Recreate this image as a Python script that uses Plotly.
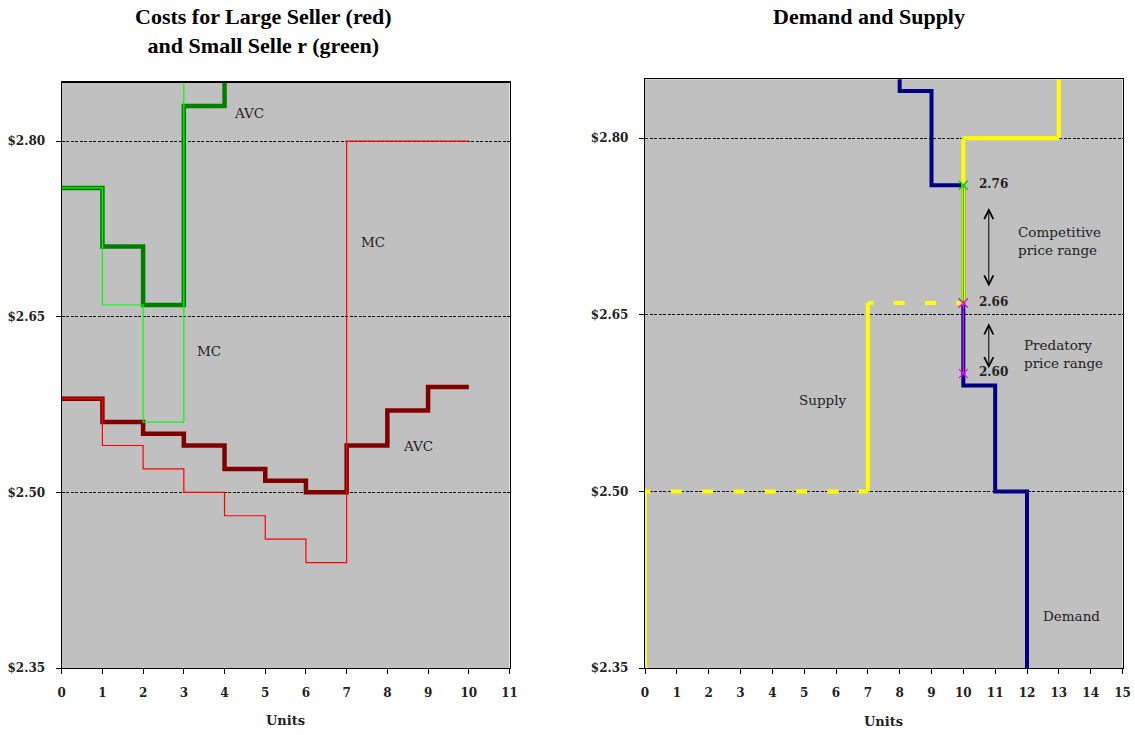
import plotly.graph_objects as go

# ---------------- data ----------------
# Left chart: costs per unit (step functions over units 0..n)
large_mc = [2.58, 2.54, 2.52, 2.50, 2.48, 2.46, 2.44, 2.80, 2.80, 2.80]
large_avc = [2.58, 2.56, 2.55, 2.54, 2.52, 2.51, 2.50, 2.54, 2.57, 2.59]
small_mc = [2.76, 2.66, 2.56, 3.34]
small_avc = [2.76, 2.71, 2.66, 2.83, 2.95]

# Right chart: demand step (boundaries and prices)
demand_q = [7, 8, 9, 10, 11, 12]
demand_p = [2.95, 2.84, 2.76, 2.59, 2.50, 2.30]

# Supply step: quantity boundaries, prices (below first step, each step, above last)
supply_q = [0, 7, 10, 13]
supply_p = [2.30, 2.50, 2.66, 2.80, 2.95]
supply_dashed = [True, True, False]

comp_q = [10, 10]
comp_p = [2.76, 2.66]
pred_q = [10, 10]
pred_p = [2.66, 2.60]

y_ticks = [2.35, 2.50, 2.65, 2.80]
y_tick_text = ["$2.35", "$2.50", "$2.65", "$2.80"]
left_x_ticks = list(range(0, 12))
right_x_ticks = list(range(0, 16))

# ---------------- layout helpers ----------------
W, H, OFF = 1135, 735, 0   # body margin removed via post_script


def px(x):
    return (x - OFF) / W


def py(y):
    return 1 - (y - OFF) / H


# ---------------- styles ----------------
SERIF = "DejaVu Serif"
TITLE_FONT = dict(family="Liberation Serif", size=22, color="black", weight=700)
TICK_FONT = dict(family=SERIF, size=12, color="#222", weight=700)
LABEL_FONT = dict(family=SERIF, size=13.5, color="#222")
NUM_FONT = dict(family=SERIF, size=12, color="#222", weight=700)


def step_xy(values):
    xs = list(range(len(values) + 1))
    ys = list(values) + [values[-1]]
    return xs, ys


fig = go.Figure()

# ---- left chart ----
for vals, color, width in [
    (large_avc, "#800000", 4.5),
    (large_mc, "#FF0000", 1.2),
    (small_avc, "#008000", 4.5),
    (small_mc, "#00FF00", 1.2),
]:
    xs, ys = step_xy(vals)
    fig.add_trace(go.Scatter(x=xs, y=ys, mode="lines", line=dict(color=color, width=width, shape="hv"),
                             xaxis="x", yaxis="y", showlegend=False, hoverinfo="skip"))

# ---- right chart ----
fig.add_trace(go.Scatter(x=demand_q, y=demand_p, mode="lines",
                         line=dict(color="#000080", width=4, shape="hv"),
                         xaxis="x2", yaxis="y2", showlegend=False, hoverinfo="skip"))

# supply: vertical parts + solid horizontals
sx, sy = [], []
dx, dy = [], []
for i, q in enumerate(supply_q):
    sx += [q, q, None]
    sy += [supply_p[i], supply_p[i + 1], None]
    if i < len(supply_q) - 1:
        if supply_dashed[i]:
            dx += [q, supply_q[i + 1], None]
            dy += [supply_p[i + 1], supply_p[i + 1], None]
        else:
            sx += [q, supply_q[i + 1], None]
            sy += [supply_p[i + 1], supply_p[i + 1], None]

fig.add_trace(go.Scatter(x=sx, y=sy, mode="lines", line=dict(color="#FFFF00", width=4),
                         xaxis="x2", yaxis="y2", showlegend=False, hoverinfo="skip"))
fig.add_trace(go.Scatter(x=dx, y=dy, mode="lines",
                         line=dict(color="#FFFF00", width=4, dash="5.5px,20.3px,5.5px,0px"),
                         xaxis="x2", yaxis="y2", showlegend=False, hoverinfo="skip"))

fig.add_trace(go.Scatter(x=comp_q, y=comp_p, mode="lines+markers",
                         line=dict(color="#00CC00", width=1.2),
                         marker=dict(symbol="x-thin-open", size=9, line=dict(color="#00FF00", width=1.2)),
                         xaxis="x2", yaxis="y2", showlegend=False, hoverinfo="skip"))
fig.add_trace(go.Scatter(x=pred_q, y=pred_p, mode="lines+markers",
                         line=dict(color="#FF00FF", width=1.2),
                         marker=dict(symbol="x-thin-open", size=9, line=dict(color="#FF00FF", width=1.2)),
                         xaxis="x2", yaxis="y2", showlegend=False, hoverinfo="skip"))

axis_common = dict(showline=True, mirror=True, linecolor="black", linewidth=1.2,
                   ticks="outside", ticklen=5, tickcolor="black", tickwidth=1,
                   zeroline=False, tickfont=TICK_FONT, automargin=False)
yaxis_common = dict(axis_common, range=[2.35, 2.85], tickvals=y_ticks, ticktext=y_tick_text,
                    showgrid=True, gridcolor="#111", gridwidth=1,
                    griddash="3px,1.5px", ticklabelstandoff=8)
xaxis_common = dict(axis_common, showgrid=False, ticklabelstandoff=8)

fig.update_layout(
    width=W, height=H,
    margin=dict(l=0, r=0, t=0, b=0, autoexpand=False),
    paper_bgcolor="white",
    plot_bgcolor="#C0C0C0",
    showlegend=False,
    hovermode=False,
    xaxis=dict(xaxis_common, domain=[px(61.7), px(509.5)], range=[0, 11], tickvals=left_x_ticks, anchor="y"),
    yaxis=dict(yaxis_common, domain=[py(668), py(82.5)], anchor="x"),
    xaxis2=dict(xaxis_common, domain=[px(645), px(1122.5)], range=[0, 15], tickvals=right_x_ticks, anchor="y2"),
    yaxis2=dict(yaxis_common, domain=[py(668), py(79.3)], anchor="x2"),
)

ann = []
# titles and axis titles
ann.append(dict(text="Costs for Large Seller (red)<br>and Small Selle r (green)", x=px(263.5), y=py(31),
                xref="paper", yref="paper", showarrow=False, font=TITLE_FONT, xanchor="center", yanchor="middle"))
ann.append(dict(text="Demand and Supply", x=px(868.5), y=py(17), xref="paper", yref="paper",
                showarrow=False, font=TITLE_FONT, xanchor="center", yanchor="middle"))
for xc, yc in ((285, 720), (883, 721)):
    ann.append(dict(text="Units", x=px(xc), y=py(yc), xref="paper", yref="paper", showarrow=False,
                    font=dict(family=SERIF, size=13, color="#222", weight=700), xanchor="center", yanchor="middle"))

# left chart labels
for txt, x, y in [("AVC", 4.59, 2.8236), ("MC", 3.63, 2.621), ("MC", 7.64, 2.7135), ("AVC", 8.74, 2.5397)]:
    ann.append(dict(text=txt, x=x, y=y, xref="x", yref="y", showarrow=False, font=LABEL_FONT,
                    xanchor="center", yanchor="middle"))

# right chart labels
for txt, y in [("2.76", 2.761), ("2.66", 2.661), ("2.60", 2.601)]:
    ann.append(dict(text=txt, x=10.44, y=y, xref="x2", yref="y2", showarrow=False, font=NUM_FONT,
                    xanchor="left", yanchor="middle"))
ann.append(dict(text="Competitive<br>price range", x=11.66, y=2.7125, xref="x2", yref="y2", showarrow=False,
                font=LABEL_FONT, xanchor="left", yanchor="middle", align="left"))
ann.append(dict(text="Predatory<br>price range", x=11.84, y=2.6168, xref="x2", yref="y2", showarrow=False,
                font=LABEL_FONT, xanchor="left", yanchor="middle", align="left"))
ann.append(dict(text="Supply", x=5.58, y=2.578, xref="x2", yref="y2", showarrow=False, font=LABEL_FONT,
                xanchor="center", yanchor="middle"))
ann.append(dict(text="Demand", x=13.4, y=2.394, xref="x2", yref="y2", showarrow=False, font=LABEL_FONT,
                xanchor="center", yanchor="middle"))

# double-headed arrows
for y0, y1 in [(2.742, 2.674), (2.644, 2.6045)]:
    ann.append(dict(text="", x=10.8, y=y1, ax=10.8, ay=y0, xref="x2", yref="y2", axref="x2", ayref="y2",
                    showarrow=True, arrowhead=5, startarrowhead=5, arrowside="end+start",
                    arrowsize=1.8, startarrowsize=1.8, arrowwidth=1, arrowcolor="black"))

fig.update_layout(annotations=ann)

fig.write_html("out.html", config={"displayModeBar": False, "staticPlot": True},
               post_script="document.body.style.margin='0';")
